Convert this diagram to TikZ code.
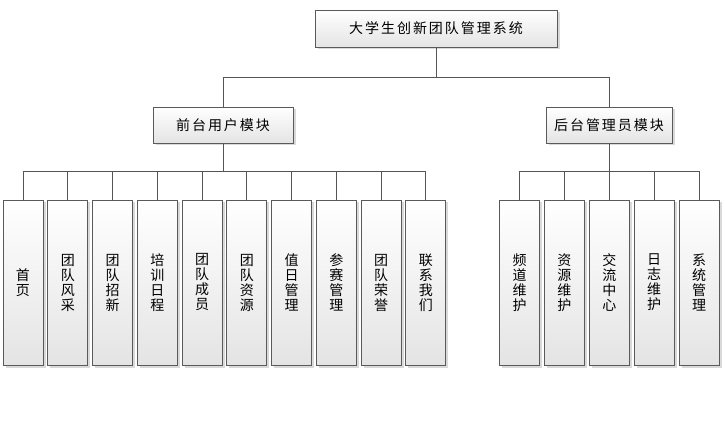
\documentclass[tikz,border=0pt]{standalone}
\usepackage{fontspec}
\setmainfont{Noto Sans CJK SC}
\newfontfamily\widecjk{Noto Sans CJK SC}[LetterSpace=14]
\usetikzlibrary{positioning,shadows}
\definecolor{Edge}{HTML}{5A5A5A}
\definecolor{Wire}{HTML}{555555}
\definecolor{Shade}{HTML}{E4E4E4}
\tikzset{
  conn/.style={draw=Wire,line width=1pt},
  boxstyle/.style={draw=Edge,line width=0.9pt,top color=white,bottom color=Shade,
    drop shadow={shadow xshift=2.5pt,shadow yshift=-2.5pt,fill=black,opacity=0.15},
    font=\fontsize{14}{15}\selectfont,inner sep=0pt},
  headbox/.style={boxstyle,minimum height=36pt,font=\widecjk\fontsize{14}{15}\selectfont},
  leafbox/.style={boxstyle,minimum width=40pt,minimum height=165pt,align=center}
}

\begin{document}
\begin{tikzpicture}[x=1pt,y=-1pt]
  \useasboundingbox (0,0) rectangle (725,422);
  \coordinate (bus1) at (0,78);
  \coordinate (bus2) at (0,172);
  % top and module boxes
  \node[headbox,minimum width=242pt,minimum height=37pt] (sys) at (436,28.5) {大学生创新团队管理系统};
  \node[headbox,minimum width=140pt] (front) at (223,125) {前台用户模块};
  \node[headbox,minimum width=126pt] (back) at (609,125) {后台管理员模块};
  % leaves
  \foreach \txt [count=\i] in {{首\\页},{团\\队\\风\\采},{团\\队\\招\\新},{培\\训\\日\\程},{团\\队\\成\\员},
      {团\\队\\资\\源},{值\\日\\管\\理},{参\\赛\\管\\理},{团\\队\\荣\\誉},{联\\系\\我\\们}}
    \node[leafbox] (f\i) at ({23+(\i-1)*44.75},282.5) {\txt};
  \foreach \txt [count=\i] in {{频\\道\\维\\护},{资\\源\\维\\护},{交\\流\\中\\心},{日\\志\\维\\护},{系\\统\\管\\理}}
    \node[leafbox] (b\i) at ({519.5+(\i-1)*44.9},282.5) {\txt};
  % connectors
  \draw[conn] (sys.south) -- (sys.south |- bus1) -| (front.north);
  \draw[conn] (sys.south) -- (sys.south |- bus1) -| (back.north);
  \foreach \i in {1,...,10}
    \draw[conn] (front.south) -- (front.south |- bus2) -| (f\i.north);
  \foreach \i in {1,...,5}
    \draw[conn] (back.south) -- (back.south |- bus2) -| (b\i.north);
\end{tikzpicture}
\end{document}
